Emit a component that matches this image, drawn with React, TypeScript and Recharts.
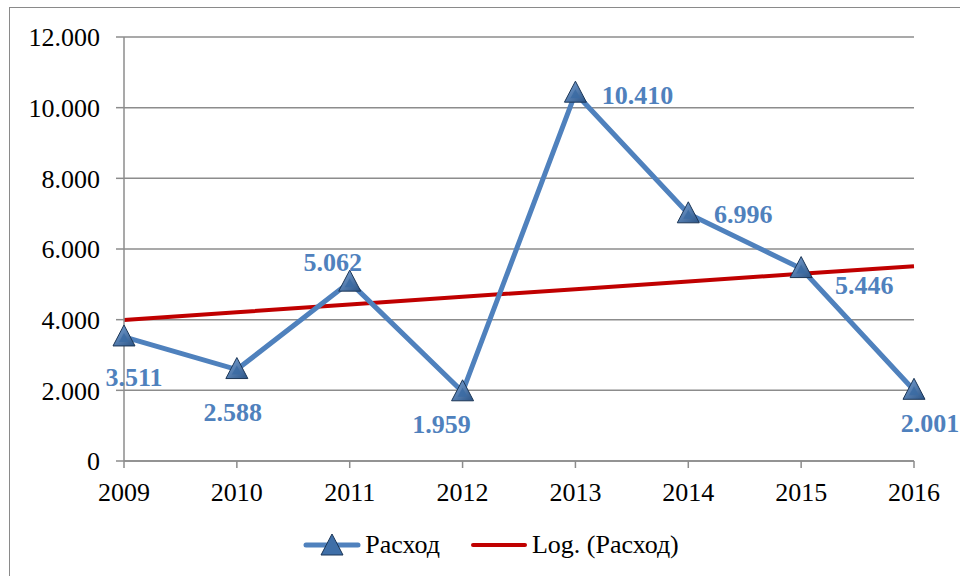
import { LineChart, Line, XAxis, YAxis, CartesianGrid, Legend, LabelList } from 'recharts';

const years = ['2009', '2010', '2011', '2012', '2013', '2014', '2015', '2016'];
const expense = [3511, 2588, 5062, 1959, 10410, 6996, 5446, 2001];
// log trend values
const trend = [3990, 4210, 4430, 4650, 4860, 5080, 5300, 5510];
const yTicks = [0, 2000, 4000, 6000, 8000, 10000, 12000];

// where each data label sits relative to its point
const labelOffsets = [
  [10, 41], [-4, 43], [-17, -20], [-21, 33],
  [62, 2], [55, 1], [63, 17], [16, 33],
];

const data = years.map((y, i) => ({ year: y, expense: expense[i], trend: trend[i] }));

const BLUE = '#4F81BD';
const RED = '#C00000';
const GRID = '#8c8c8c';
const FONT = '"Liberation Serif", "Times New Roman", serif';

const fmt = (v: number) => {
  if (v === 0) return '0';
  const s = String(Math.round(v));
  return s.replace(/\B(?=(\d{3})+(?!\d))/g, '.');
};

const Triangle = ({ cx, cy, key }: any) => {
  if (cx == null || cy == null) return null;
  const w = 11;
  return (
    <g key={key}>
      <defs>
        <linearGradient id="triGrad" x1="0" y1="0" x2="1" y2="1">
          <stop offset="0%" stopColor="#7ea6d8" />
          <stop offset="100%" stopColor="#2b5486" />
        </linearGradient>
      </defs>
      <polygon
        points={`${cx},${cy - 12} ${cx + w},${cy + 9} ${cx - w},${cy + 9}`}
        fill="url(#triGrad)"
        stroke="#1c3656"
        strokeWidth={1}
      />
      <polygon
        points={`${cx},${cy - 4} ${cx + 5},${cy + 5} ${cx - 5},${cy + 5}`}
        fill="#3a6aa3"
        opacity={0.8}
      />
    </g>
  );
};

const renderLabel = (props: any) => {
  const { x, y, value, index } = props;
  const [dx, dy] = labelOffsets[index] || [0, 0];
  return (
    <text
      x={x + dx}
      y={y + dy}
      textAnchor="middle"
      dominantBaseline="central"
      fill={BLUE}
      fontFamily={FONT}
      fontWeight="bold"
      fontSize={26}
    >
      {fmt(value)}
    </text>
  );
};

const renderLegend = () => (
  <div style={{ display: 'flex', justifyContent: 'center', alignItems: 'center', paddingLeft: 22, fontFamily: FONT, fontSize: 26, color: '#000' }}>
    <svg width={58} height={24} style={{ marginRight: 4 }}>
      <line x1={3} y1={12} x2={55} y2={12} stroke={BLUE} strokeWidth={5} strokeLinecap="round" />
      <polygon points="29,1 40,22 18,22" fill="#3f6fa8" stroke="#1c3656" strokeWidth={1} />
    </svg>
    <span style={{ marginRight: 30 }}>Расход</span>
    <svg width={58} height={24} style={{ marginRight: 4 }}>
      <line x1={3} y1={12} x2={55} y2={12} stroke={RED} strokeWidth={4} strokeLinecap="round" />
    </svg>
    <span>Log. (Расход)</span>
  </div>
);

const tickStyle = { fill: '#000', fontSize: 26, fontFamily: FONT };

export default function App() {
  return (
    <div style={{ position: 'absolute', left: 0, top: 0, width: 960, height: 576, overflow: 'hidden', background: '#fff' }}>
      <div style={{ position: 'absolute', left: 9, top: 7, width: 980, height: 600, border: '1.5px solid #8a8a8a' }} />
      <LineChart
        width={960}
        height={576}
        data={data}
        margin={{ top: 37, right: 46, bottom: 65, left: 0 }}
      >
        <CartesianGrid vertical={false} stroke={GRID} strokeWidth={1.5} />
        <XAxis
          dataKey="year"
          height={50}
          stroke={GRID}
          strokeWidth={1.5}
          tickSize={7}
          tickMargin={15}
          tick={tickStyle}
          interval={0}
        />
        <YAxis
          width={124}
          domain={[0, 12000]}
          ticks={yTicks}
          tickFormatter={fmt}
          stroke={GRID}
          strokeWidth={1.5}
          tickSize={8}
          tickMargin={16}
          tick={tickStyle}
          interval={0}
        />
        <Legend
          verticalAlign="middle"
          layout="horizontal"
          content={renderLegend}
          wrapperStyle={{ top: 530, left: 0, width: 960 }}
        />
        <Line
          dataKey="trend"
          name="Log. (Расход)"
          stroke={RED}
          strokeWidth={4}
          dot={false}
          activeDot={false}
          isAnimationActive={false}
        />
        <Line
          dataKey="expense"
          name="Расход"
          stroke={BLUE}
          strokeWidth={5}
          dot={Triangle}
          activeDot={false}
          isAnimationActive={false}
        >
          <LabelList dataKey="expense" content={renderLabel} />
        </Line>
      </LineChart>
    </div>
  );
}
